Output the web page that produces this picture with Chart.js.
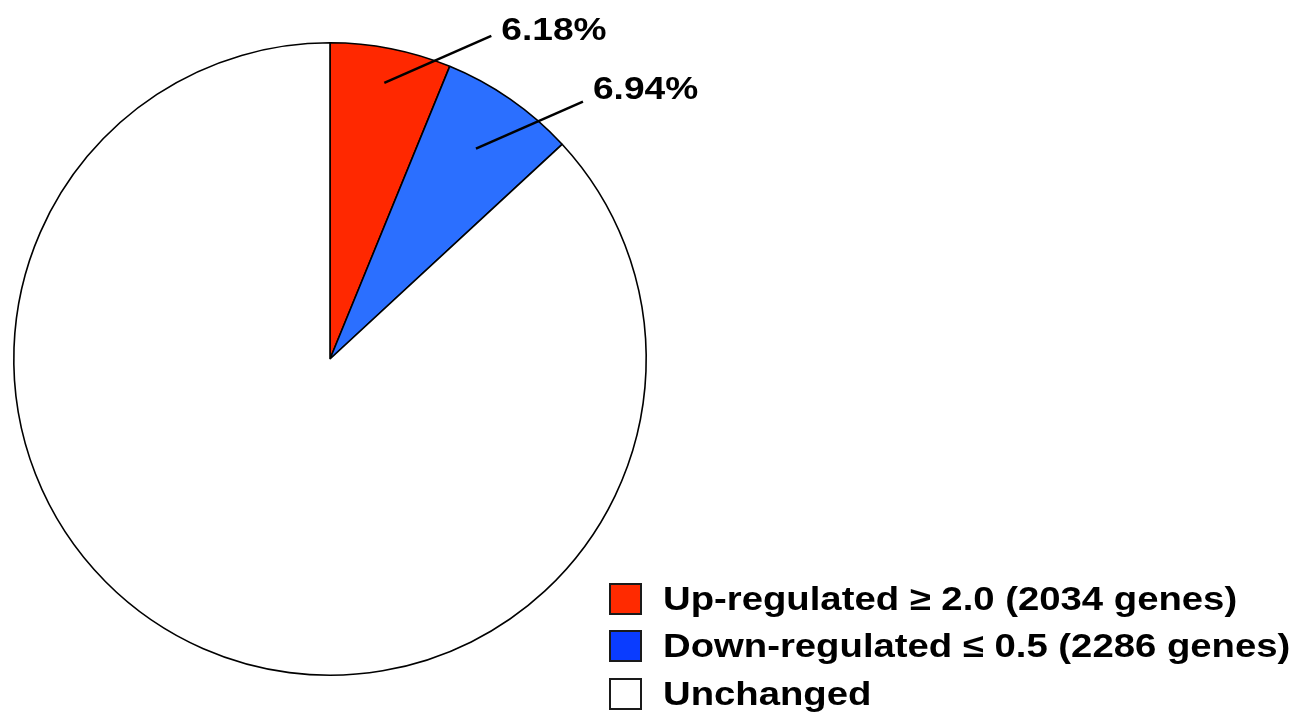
<!DOCTYPE html>
<html>
<head>
<meta charset="utf-8">
<script src="https://cdn.jsdelivr.net/npm/chart.js@4/dist/chart.umd.min.js"></script>
<style>
  html, body { margin: 0; padding: 0; background: #fff; }
  #wrap { position: relative; width: 1305px; height: 715px; overflow: hidden; }
  #legend { position: absolute; left: 609px; top: 575px; font-family: "Liberation Sans", Arial, sans-serif; font-weight: bold; font-size: 33px; color: #000; }
  .row { display: flex; align-items: center; height: 47.5px; white-space: nowrap; }
  .box { width: 33px; height: 32px; border: 2px solid #1a1a1a; box-sizing: border-box; margin-right: 21px; flex: none; }
  .txt { display: inline-block; transform: scaleX(1.16); transform-origin: left center; }
</style>
</head>
<body>
<div id="wrap">
  <canvas id="js-pie-chart" width="1305" height="715"></canvas>
  <div id="legend"></div>
</div>
<script>
// Chart data
const categories = ['Up-regulated \u2265 2.0 (2034 genes)', 'Down-regulated \u2264 0.5 (2286 genes)', 'Unchanged'];
const percentValues = [6.18, 6.94, 86.88];
const sliceLabels = ['6.18%', '6.94%', ''];
const sliceColors = ['#FF2800', '#2B6FFF', '#FFFFFF'];
const legendColors = ['#FF2A00', '#0A3CFF', '#FFFFFF'];

// Leader line labels for the small slices
const leaderLabels = {
  id: 'leaderLabels',
  afterDatasetsDraw(chart, args, opts) {
    const ctx = chart.ctx;
    const arcs = chart.getDatasetMeta(0).data;
    ctx.save();
    ctx.strokeStyle = '#000';
    ctx.lineWidth = 2.5;
    ctx.fillStyle = '#000';
    ctx.font = 'bold 32px "Liberation Sans", Arial, sans-serif';
    ctx.textBaseline = 'middle';
    ctx.textAlign = 'left';
    arcs.forEach(function (arc, i) {
      if (!sliceLabels[i]) return;
      const p = arc.getProps(['x', 'y', 'startAngle', 'endAngle', 'outerRadius'], true);
      const mid = (p.startAngle + p.endAngle) / 2;
      const r = p.outerRadius * opts.depth[i];
      const x0 = p.x + Math.cos(mid) * r;
      const y0 = p.y + Math.sin(mid) * r;
      const x1 = x0 + 107;
      const y1 = y0 - 47;
      ctx.beginPath();
      ctx.moveTo(x0, y0);
      ctx.lineTo(x1, y1);
      ctx.stroke();
      // slightly wide lettering like the original
      ctx.save();
      ctx.translate(x1 + 10, y1 + opts.textShift[i]);
      ctx.scale(1.16, 1);
      ctx.fillText(sliceLabels[i], 0, 0);
      ctx.restore();
    });
    ctx.restore();
  }
};

const pieContext = document.getElementById('js-pie-chart').getContext('2d');

const newPieChart = new Chart(pieContext, {
  type: 'pie',
  data: {
    labels: categories,
    datasets: [
      {
        data: percentValues,
        backgroundColor: sliceColors,
        borderColor: '#000',
        borderWidth: 1.6,
      },
    ],
  },
  options: {
    responsive: false,
    animation: false,
    layout: {
      padding: { left: 13, top: 42, right: 658, bottom: 39 },
    },
    plugins: {
      legend: { display: false },
      tooltip: { enabled: false },
      leaderLabels: { depth: [0.89, 0.81, 0], textShift: [-5, -11, 0] },
    },
  },
  plugins: [leaderLabels],
});

// HTML legend, bottom right
const legendEl = document.getElementById('legend');
categories.forEach(function (name, i) {
  const row = document.createElement('div');
  row.className = 'row';
  const box = document.createElement('span');
  box.className = 'box';
  box.style.background = legendColors[i];
  const txt = document.createElement('span');
  txt.className = 'txt';
  txt.textContent = name;
  row.appendChild(box);
  row.appendChild(txt);
  legendEl.appendChild(row);
});
</script>
</body>
</html>
